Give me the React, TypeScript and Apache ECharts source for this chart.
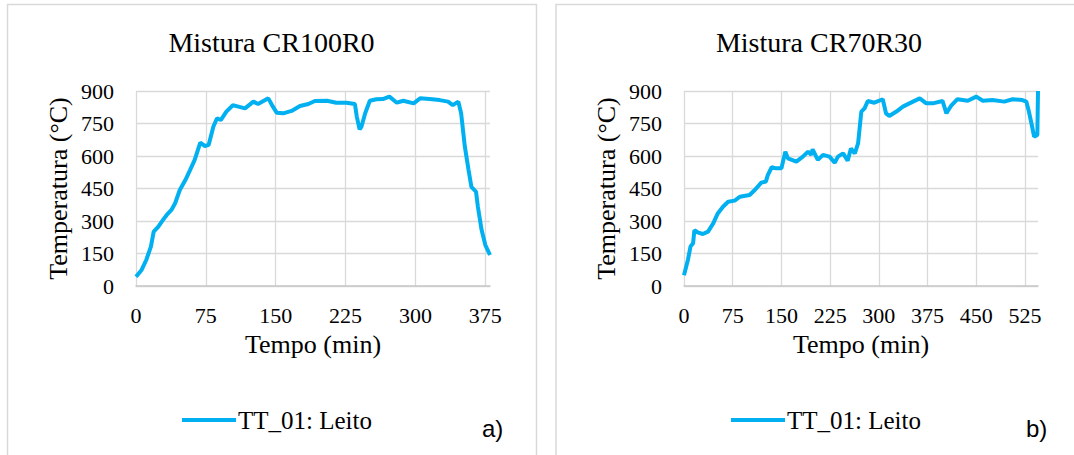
import React, { useEffect, useRef } from "react";
import * as echarts from "echarts";

const seriesName = "TT_01: Leito";
const titles = ["Mistura CR100R0", "Mistura CR70R30"];
const panelTags = ["a)", "b)"];
const xName = "Tempo (min)";
const yName = "Temperatura (°C)";

const leftTime = [0, 6, 11, 16, 19, 24, 29, 33, 38, 42, 47, 53, 58, 63, 69, 74, 78, 83, 87, 91, 97, 104, 110, 117, 126, 131, 142, 146, 151, 158, 167, 176, 185, 192, 205, 215, 226, 235, 237, 240, 242, 246, 251, 258, 265, 272, 280, 287, 298, 305, 315, 326, 335, 340, 346, 349, 353, 357, 360, 365, 367, 371, 375, 380];
const leftTemp = [43, 74, 120, 182, 251, 274, 305, 328, 351, 382, 443, 489, 535, 582, 662, 646, 651, 735, 774, 766, 805, 834, 828, 820, 851, 840, 866, 835, 800, 797, 808, 831, 840, 854, 855, 846, 846, 840, 782, 723, 735, 797, 855, 862, 863, 874, 846, 855, 843, 866, 863, 858, 851, 835, 851, 797, 643, 535, 458, 435, 366, 258, 189, 143];

const rightTime = [0, 6, 10, 14, 16, 22, 29, 37, 45, 52, 60, 68, 78, 86, 101, 109, 119, 126, 129, 135, 142, 150, 156, 160, 173, 183, 191, 196, 198, 206, 214, 224, 232, 237, 245, 252, 257, 263, 268, 273, 278, 283, 293, 306, 311, 316, 327, 337, 347, 363, 373, 383, 398, 404, 411, 421, 437, 450, 460, 475, 493, 506, 521, 527, 531, 536, 539, 544, 545];
const rightTemp = [50, 120, 182, 197, 258, 246, 240, 251, 289, 335, 366, 389, 394, 412, 420, 443, 477, 482, 512, 548, 543, 543, 620, 589, 574, 597, 620, 605, 631, 582, 605, 597, 569, 597, 612, 578, 635, 612, 658, 805, 820, 854, 846, 862, 797, 785, 805, 828, 843, 866, 843, 843, 854, 797, 831, 862, 855, 874, 855, 858, 851, 862, 858, 851, 805, 735, 689, 697, 900];

const xMax = [380, 545];
const xStep = 75;
const yMin = 0;
const yMax = 900;
const yStep = 150;

const SERIF = "Liberation Serif";
const LINE_COLOR = "#00b0f0";
const GRID_COLOR = "#d9d9d9";

export default function App() {
  const ref = useRef<HTMLDivElement>(null);

  useEffect(() => {
    if (!ref.current) return;
    const chart = echarts.init(ref.current, undefined, { renderer: "svg" });

    const grids = [
      { left: 136, top: 91, width: 354, height: 195 },
      { left: 684, top: 91, width: 354, height: 195 },
    ];
    const titleCenters = [271.5, 819];
    const legendLefts = [182, 731];
    const tagX = [482, 1026];

    const xAxes = [0, 1].map((i) => ({
      type: "value",
      gridIndex: i,
      min: 0,
      max: xMax[i],
      interval: xStep,
      name: xName,
      nameLocation: "middle",
      nameGap: 45,
      nameTextStyle: { fontFamily: SERIF, fontSize: 26, color: "#000" },
      axisLine: { show: true, lineStyle: { color: "#c8c8c8", width: 1.5 } },
      axisTick: { show: false },
      axisLabel: {
        fontFamily: SERIF,
        fontSize: 22,
        color: "#000",
        margin: 18,
        showMaxLabel: false,
      },
      splitLine: {
        show: true,
        showMaxLine: false,
        lineStyle: { color: GRID_COLOR, width: 1.3 },
      },
    }));

    const yAxes = [0, 1].map((i) => ({
      type: "value",
      gridIndex: i,
      min: yMin,
      max: yMax,
      interval: yStep,
      name: yName,
      nameLocation: "middle",
      nameGap: 65,
      nameTextStyle: { fontFamily: SERIF, fontSize: 26, color: "#000" },
      axisLine: { show: false },
      axisTick: { show: false },
      axisLabel: { fontFamily: SERIF, fontSize: 22, color: "#000", margin: 22 },
      splitLine: { show: true, lineStyle: { color: GRID_COLOR, width: 1.3 } },
    }));

    const dataSets = [
      leftTime.map((t, k) => [t, leftTemp[k]]),
      rightTime.map((t, k) => [t, rightTemp[k]]),
    ];

    chart.setOption({
      animation: false,
      backgroundColor: "#ffffff",
      textStyle: { fontFamily: SERIF },
      title: [0, 1].map((i) => ({
        text: titles[i],
        left: titleCenters[i],
        top: 28.5,
        textAlign: "center",
        padding: 0,
        textStyle: {
          fontFamily: SERIF,
          fontSize: 28,
          fontWeight: "normal",
          color: "#000",
          lineHeight: 28,
        },
      })),
      legend: [0, 1].map((i) => ({
        left: legendLefts[i],
        top: 407.5,
        padding: 0,
        icon: "rect",
        itemWidth: 54,
        itemHeight: 4,
        data: [seriesName],
        selectedMode: false,
        textStyle: { fontFamily: SERIF, fontSize: 25, color: "#000", padding: [0, 0, 0, -3] },
      })),
      grid: grids,
      xAxis: xAxes,
      yAxis: yAxes,
      series: [0, 1].map((i) => ({
        name: seriesName,
        type: "line",
        xAxisIndex: i,
        yAxisIndex: i,
        data: dataSets[i],
        showSymbol: false,
        symbol: "none",
        lineStyle: { color: LINE_COLOR, width: 4 },
        itemStyle: { color: LINE_COLOR },
        z: 3,
      })),
      graphic: [
        {
          type: "rect",
          shape: { x: 7.5, y: 4.5, width: 529, height: 470 },
          style: { fill: "none", stroke: GRID_COLOR, lineWidth: 1.5 },
          silent: true,
          z: -10,
        },
        {
          type: "rect",
          shape: { x: 556, y: 4.5, width: 540, height: 470 },
          style: { fill: "none", stroke: GRID_COLOR, lineWidth: 1.5 },
          silent: true,
          z: -10,
        },
        ...[0, 1].map((i) => ({
          type: "text",
          x: tagX[i],
          y: 428,
          style: {
            text: panelTags[i],
            fontFamily: "Liberation Sans",
            fontSize: 24,
            fill: "#000",
            verticalAlign: "middle",
          },
        })),
      ],
    });

    return () => chart.dispose();
  }, []);

  return (
    <div
      ref={ref}
      style={{ position: "absolute", left: 0, top: 0, width: 1074, height: 455, background: "#fff" }}
    />
  );
}
